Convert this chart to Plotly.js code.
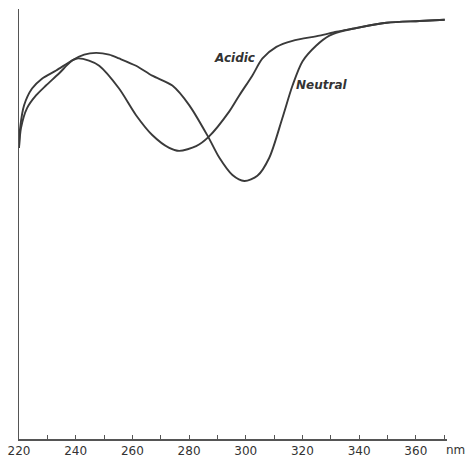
<!DOCTYPE html>
<html>
<head>
<meta charset="utf-8">
<script src="https://cdn.plot.ly/plotly-3.0.1.min.js"></script>
<style>html,body{margin:0;padding:0;background:#fff;}#chart{width:466px;height:459px;}</style>
</head>
<body>
<div id="chart"></div>
<script>
// Wavelength (nm) and relative absorbance-like values
const acidicWavelength = [220, 220.4, 221.8, 224.6, 228.1, 233.1, 238.7, 240.5, 244.7, 248.3, 255.3, 261.3, 267.0, 273.0, 276.5, 282.5, 286.8, 294.2, 297.7, 302.3, 305.9, 310.8, 316.5, 326.0, 332.0, 337.7, 349.7, 361.3, 370.2];
const acidicValue      = [0.677, 0.723, 0.776, 0.815, 0.838, 0.857, 0.880, 0.885, 0.880, 0.868, 0.815, 0.753, 0.707, 0.677, 0.670, 0.681, 0.702, 0.762, 0.799, 0.845, 0.885, 0.912, 0.926, 0.938, 0.947, 0.954, 0.968, 0.972, 0.975];

const neutralWavelength = [220, 220.7, 222.8, 226.0, 229.5, 234.1, 238.7, 243.0, 247.2, 251.8, 255.3, 261.3, 267.0, 274.1, 280.1, 286.8, 290.7, 295.3, 299.5, 304.1, 308.3, 312.9, 316.5, 320.0, 324.9, 329.5, 333.1, 337.7, 349.7, 361.3, 370.2];
const neutralValue      = [0.677, 0.723, 0.769, 0.799, 0.822, 0.850, 0.880, 0.894, 0.898, 0.894, 0.885, 0.868, 0.845, 0.822, 0.776, 0.702, 0.654, 0.614, 0.600, 0.612, 0.654, 0.746, 0.822, 0.878, 0.915, 0.938, 0.947, 0.954, 0.968, 0.972, 0.975];

const tickValues = [220, 230, 240, 250, 260, 270, 280, 290, 300, 310, 320, 330, 340, 350, 360, 370];
const tickLabels = ["220", "", "240", "", "260", "", "280", "", "300", "", "320", "", "340", "", "360", ""];
const unitLabel = "nm";
const seriesNames = ["Acidic", "Neutral"];

const lineColor = "#3a3a3a";
const traces = [
  {x: acidicWavelength, y: acidicValue, name: seriesNames[0], mode: "lines",
   line: {color: lineColor, width: 1.9, shape: "spline", smoothing: 0.8}},
  {x: neutralWavelength, y: neutralValue, name: seriesNames[1], mode: "lines",
   line: {color: lineColor, width: 1.9, shape: "spline", smoothing: 0.8}}
];

const layout = {
  width: 466, height: 459,
  margin: {l: 19, r: 19, t: 9, b: 20},
  paper_bgcolor: "#fff", plot_bgcolor: "#fff",
  showlegend: false,
  font: {family: "DejaVu Sans, sans-serif", color: "#333"},
  xaxis: {
    range: [220, 371], showgrid: false, zeroline: false,
    showline: true, linecolor: "#555", linewidth: 1.5,
    tickmode: "array", tickvals: tickValues, ticktext: tickLabels,
    ticks: "inside", ticklen: 4, tickwidth: 1, tickcolor: "#555",
    tickfont: {family: "DejaVu Sans, sans-serif", size: 12, color: "#333"}
  },
  yaxis: {
    range: [0, 1], showgrid: false, zeroline: false,
    showline: true, linecolor: "#555", linewidth: 1.5,
    showticklabels: false, ticks: ""
  },
  annotations: [
    {x: 296.0, y: 0.885, xref: "x", yref: "y", text: "<b><i>" + seriesNames[0] + "</i></b>", showarrow: false,
     font: {family: "DejaVu Sans, sans-serif", size: 12, color: "#333"}},
    {x: 326.7, y: 0.824, xref: "x", yref: "y", text: "<b><i>" + seriesNames[1] + "</i></b>", showarrow: false,
     font: {family: "DejaVu Sans, sans-serif", size: 12, color: "#333"}},
    {x: 1.021, y: 0, xref: "paper", yref: "paper", xanchor: "center", yanchor: "top", yshift: -2, text: unitLabel, showarrow: false,
     font: {family: "DejaVu Sans, sans-serif", size: 12, color: "#333"}}
  ]
};

Plotly.newPlot("chart", traces, layout, {displayModeBar: false, staticPlot: true});
</script>
</body>
</html>
